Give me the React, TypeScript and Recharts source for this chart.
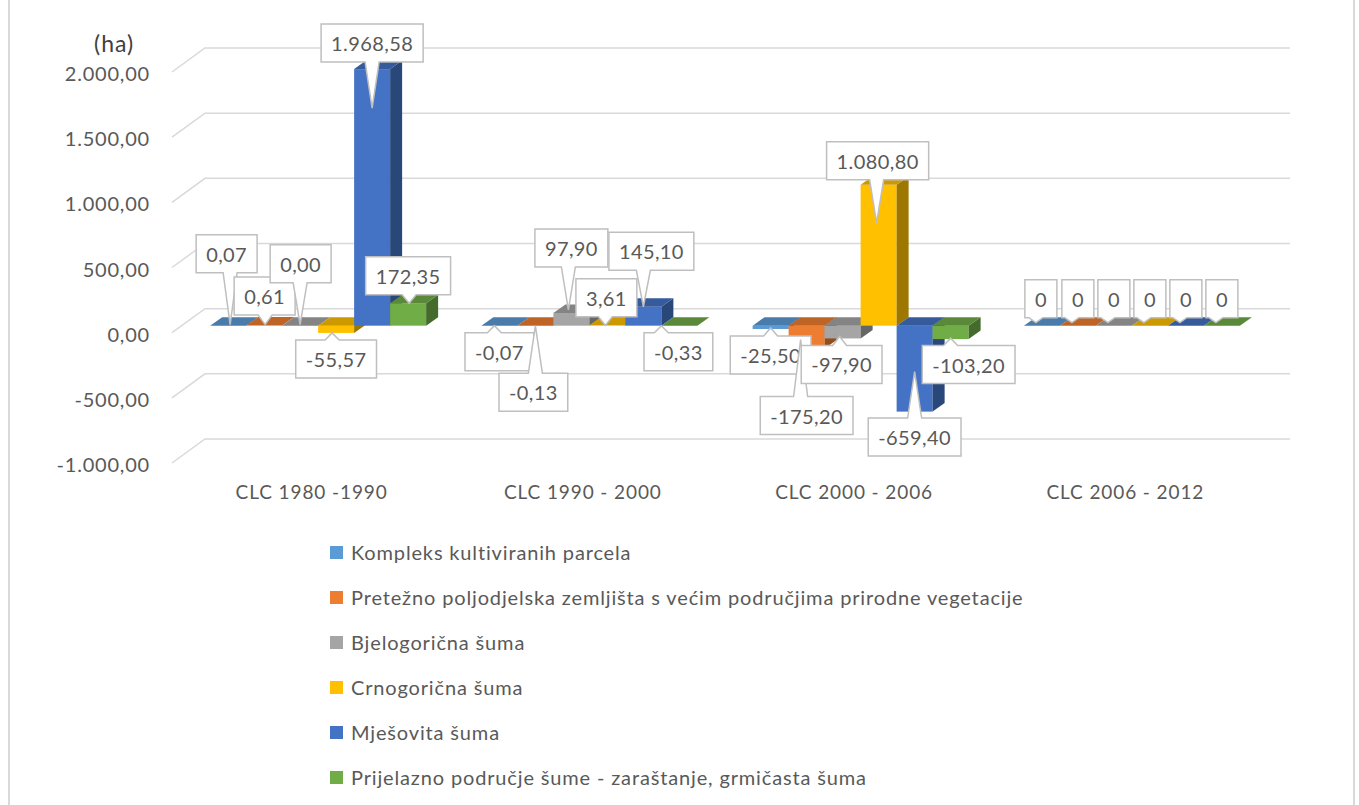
import { BarChart, Bar, XAxis, YAxis, CartesianGrid, LabelList } from 'recharts';

const categories = ['CLC 1980 -1990', 'CLC 1990 - 2000', 'CLC 2000 - 2006', 'CLC 2006 - 2012'];
const seriesNames = [
  'Kompleks kultiviranih parcela',
  'Pretežno poljodjelska zemljišta s većim područjima prirodne vegetacije',
  'Bjelogorična šuma',
  'Crnogorična šuma',
  'Mješovita šuma',
  'Prijelazno područje šume - zaraštanje, grmičasta šuma',
];
const seriesColors = ['#5B9BD5', '#ED7D31', '#A5A5A5', '#FFC000', '#4472C4', '#70AD47'];

const kompleks = [0.07, -0.07, -25.5, 0];
const pretezno = [0.61, -0.13, -175.2, 0];
const bjelogoricna = [0.0, 97.9, -97.9, 0];
const crnogoricna = [-55.57, 3.61, 1080.8, 0];
const mjesovita = [1968.58, 145.1, -659.4, 0];
const prijelazno = [172.35, -0.33, -103.2, 0];
const labelDecimals = [2, 2, 2, 0];
const yTicks = [-1000, -500, 0, 500, 1000, 1500, 2000];

const seriesValues = [kompleks, pretezno, bjelogoricna, crnogoricna, mjesovita, prijelazno];
const data = categories.map((name, i) => {
  const row: any = { name };
  seriesValues.forEach((vals, s) => { row['s' + s] = vals[i]; });
  return row;
});

// callout placement: [boxDx, boxDy, tipDx, tipDy] from the bar's value point
const callouts = [
  [[-1.5, -72, 2, -1], [0, 26, -5, 0], [0, 26, 0, -1], [-1, -27, -6, -3]],
  [[0.5, -29.5, 1, -1], [-2, 66.5, 0, 0], [0, 67, -6, -9], [0, -27, -6, -3]],
  [[0.5, -62, 0, -1], [0, -65, -3, -3], [-1, 26, -3, -2], [0, -27, -6, -3]],
  [[0, 26, -4, 0], [-1, -27.5, -2, 0], [-1, -24, -2, 38], [0, -27, -6, -3]],
  [[0, -26, 0, 39], [8, -55.5, 0, 0], [0, 25.5, 0, -40], [0, -27, -6, -3]],
  [[0, -27.5, 1, 0], [-1, 26, -18, 0], [18, 25.5, 0, -1], [0, -27, -6, -3]],
];

const FONT = 'Lato, "Open Sans", sans-serif';
const TEXT = '#595959';
const DX = 12;
const DY = 8.5;

const fmt = (v: number, d: number) => {
  const neg = v < 0;
  const [int, dec] = Math.abs(v).toFixed(d).split('.');
  const grouped = int.replace(/\B(?=(\d{3})+(?!\d))/g, '.');
  return (neg ? '-' : '') + grouped + (dec ? ',' + dec : '');
};

const shade = (hex: string, f: number) => {
  const n = parseInt(hex.slice(1), 16);
  const r = Math.round(((n >> 16) & 255) * f);
  const g = Math.round(((n >> 8) & 255) * f);
  const b = Math.round((n & 255) * f);
  return `rgb(${r},${g},${b})`;
};

let ctx: CanvasRenderingContext2D | null = null;
const measure = (t: string) => {
  if (!ctx) ctx = document.createElement('canvas').getContext('2d');
  if (!ctx) return t.length * 10;
  ctx.font = `20px ${FONT}`;
  return ctx.measureText(t).width + t.length * 0.4;
};

const Bar3D = (props: any) => {
  const { x, y, width, height, fill } = props;
  if (x == null || y == null) return null;
  const top = Math.min(y, y + height);
  const h = Math.abs(height);
  const r = x + width;
  return (
    <g>
      <rect x={x} y={top} width={width} height={h} fill={fill} />
      <polygon points={`${r},${top} ${r + DX},${top - DY} ${r + DX},${top + h - DY} ${r},${top + h}`} fill={shade(fill, 0.62)} />
      <polygon points={`${x},${top} ${r},${top} ${r + DX},${top - DY} ${x + DX},${top - DY}`} fill={shade(fill, 0.8)} />
    </g>
  );
};

const makeCallout = (s: number) => (props: any) => {
  const { index, value } = props;
  const vb = props.viewBox ?? props;
  const x = vb.x, y = vb.y, w = vb.width, hgt = vb.height;
  if (x == null || value == null) return null;
  const top = Math.min(y, y + hgt);
  const bottom = Math.max(y, y + hgt);
  const cx = x + w / 2;
  const vy = value >= 0 ? top : bottom;
  const [bdx, bdy, tdx, tdy] = callouts[s][index];
  const text = fmt(value, labelDecimals[index]);
  const bw = measure(text) + 20;
  const bh = 38;
  const bcx = cx + bdx, bcy = vy + bdy;
  const L = bcx - bw / 2, R = bcx + bw / 2, T = bcy - bh / 2, B = bcy + bh / 2;
  const tx = cx + tdx, ty = vy + tdy;
  const hw = 7;
  const clampX = Math.min(Math.max(tx, L + hw + 2), R - hw - 2);
  let d: string;
  if (ty > B) {
    d = `M${L},${T} H${R} V${B} H${clampX + hw} L${tx},${ty} L${clampX - hw},${B} H${L} Z`;
  } else if (ty < T) {
    d = `M${L},${T} H${clampX - hw} L${tx},${ty} L${clampX + hw},${T} H${R} V${B} H${L} Z`;
  } else {
    d = `M${L},${T} H${R} V${B} H${L} Z`;
  }
  return (
    <g>
      <path d={d} fill="#fff" stroke="#BFBFBF" strokeWidth={1.5} />
      <text x={bcx} y={bcy} textAnchor="middle" dominantBaseline="central" fontSize={20} letterSpacing={0.4} fontFamily={FONT} fill={TEXT}>
        {text}
      </text>
    </g>
  );
};

const GridLine = (p: any) => {
  const { x1, x2, y1 } = p;
  return (
    <path
      key={p.key ?? `grid-${y1}`}
      d={`M${x1 - 11},${y1 + 7} L${x1 + 22},${y1 - 17} H${x2 + 22}`}
      fill="none"
      stroke="#D9D9D9"
      strokeWidth={1.5}
    />
  );
};

const YTick = (p: any) => (
  <text x={p.x - 25} y={p.y + 8} textAnchor="end" dominantBaseline="central" fontSize={20} letterSpacing={0.8} fontFamily={FONT} fill={TEXT}>
    {fmt(p.payload.value, 2)}
  </text>
);

const XTick = (p: any) => (
  <text x={p.x - 7} y={p.y + 27} textAnchor="middle" dominantBaseline="central" fontSize={19} letterSpacing={0.9} fontFamily={FONT} fill={TEXT}>
    {p.payload.value}
  </text>
);

export default function App() {
  return (
    <div style={{ position: 'relative', width: 1359, height: 805, background: '#fff', fontFamily: FONT, overflow: 'hidden' }}>
      <style>{`body{margin:0}`}</style>
      <div style={{ position: 'absolute', left: 8, top: 0, width: 2, height: 805, background: '#D9D9D9' }} />
      <div style={{ position: 'absolute', left: 1353, top: 0, width: 2, height: 805, background: '#D9D9D9' }} />
      <div style={{ position: 'absolute', left: 94, top: 29, fontSize: 23, letterSpacing: 1, color: '#404040', lineHeight: '28px' }}>(ha)</div>
      <div style={{ position: 'absolute', left: 0, top: 0 }}>
        <BarChart width={1359} height={520} data={data} margin={{ top: 65, right: 91, left: 0, bottom: 34 }} barCategoryGap="10%" barGap={0}>
          <CartesianGrid vertical={false} horizontal={GridLine} />
          <XAxis dataKey="name" axisLine={false} tickLine={false} height={30} tick={<XTick />} interval={0} />
          <YAxis width={183} domain={[-1000, 2000]} ticks={yTicks} axisLine={false} tickLine={false} tick={<YTick />} interval={0} />
          {seriesNames.map((name, s) => (
            <Bar key={name} name={name} dataKey={'s' + s} fill={seriesColors[s]} shape={<Bar3D />} isAnimationActive={false}>
              <LabelList dataKey={'s' + s} content={makeCallout(s)} />
            </Bar>
          ))}
        </BarChart>
      </div>
      {seriesNames.map((name, s) => (
        <div key={name} style={{ position: 'absolute', left: 330, top: 552 + 45 * s - 14, height: 28, display: 'flex', alignItems: 'center', fontSize: 20, letterSpacing: 0.85, color: TEXT, whiteSpace: 'nowrap' }}>
          <span style={{ display: 'inline-block', width: 13, height: 13, background: seriesColors[s], marginRight: 8 }} />
          {name}
        </div>
      ))}
    </div>
  );
}
